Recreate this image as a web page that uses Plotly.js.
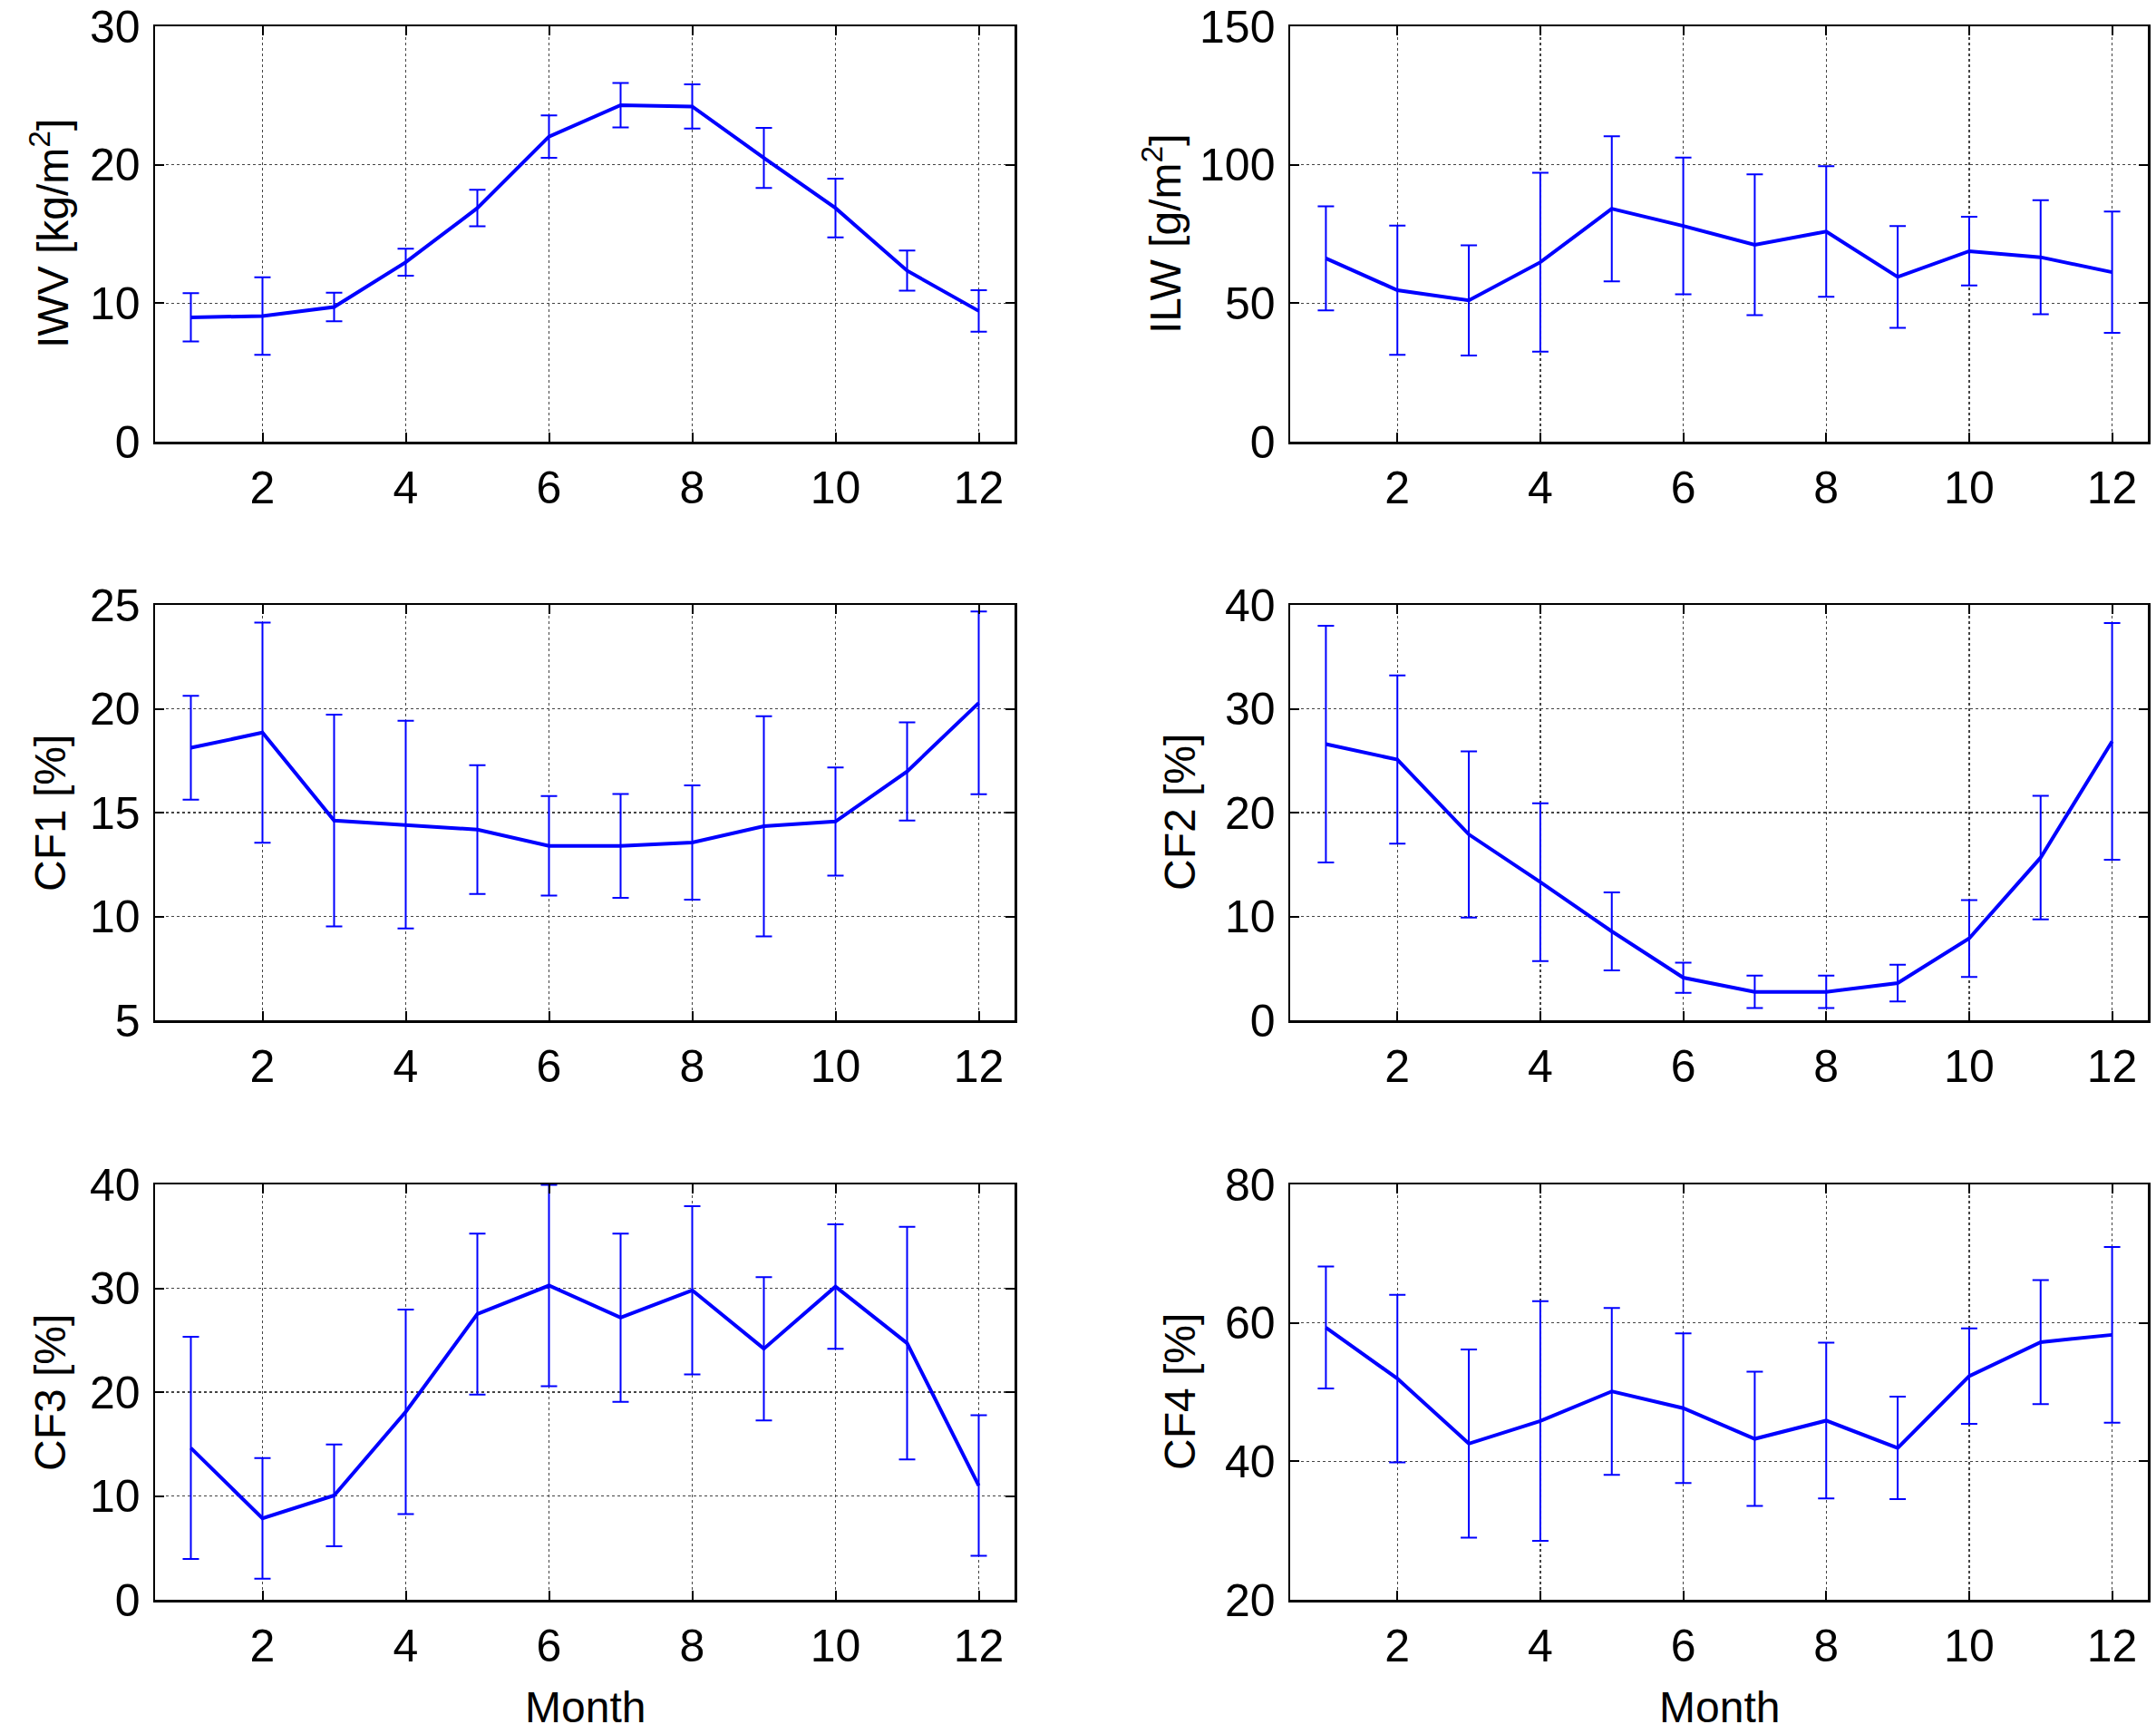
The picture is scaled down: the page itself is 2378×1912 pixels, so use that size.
<!DOCTYPE html>
<html>
<head>
<meta charset="utf-8">
<script src="https://cdn.plot.ly/plotly-3.0.1.min.js"></script>
<style>
  html, body { margin: 0; padding: 0; background: #fff; }
  #chart { width: 2378px; height: 1912px; }
</style>
</head>
<body>
<div id="chart"></div>
<script>
"use strict";

// monthly means and standard deviations
var months = [1, 2, 3, 4, 5, 6, 7, 8, 9, 10, 11, 12];

var iwvMean = [8.98, 9.07, 9.73, 12.96, 16.87, 22.03, 24.3, 24.21, 20.5, 16.87, 12.35, 9.44];
var iwvStd = [1.74, 2.8, 1.03, 0.97, 1.32, 1.53, 1.6, 1.6, 2.17, 2.12, 1.45, 1.5];

var ilwMean = [66.2, 54.7, 51.0, 64.8, 84.1, 77.9, 71.1, 75.9, 59.5, 68.8, 66.6, 61.2];
var ilwStd = [18.8, 23.3, 19.9, 32.3, 26.2, 24.7, 25.4, 23.6, 18.4, 12.4, 20.6, 21.9];

var cf1Mean = [18.12, 18.85, 14.62, 14.42, 14.18, 13.4, 13.4, 13.56, 14.34, 14.57, 16.98, 20.28];
var cf1Std = [2.5, 5.3, 5.1, 5.0, 3.1, 2.4, 2.5, 2.75, 5.3, 2.6, 2.36, 4.4];

var cf2Mean = [26.6, 25.1, 17.9, 13.3, 8.56, 4.1, 2.74, 2.74, 3.58, 7.88, 15.66, 26.86];
var cf2Std = [11.4, 8.1, 8.0, 7.6, 3.75, 1.45, 1.57, 1.57, 1.77, 3.7, 5.95, 11.4];

var cf3Mean = [14.62, 7.84, 10.05, 18.1, 27.52, 30.26, 27.17, 29.8, 24.18, 30.16, 24.71, 11.0];
var cf3Std = [10.7, 5.8, 4.9, 9.85, 7.75, 9.7, 8.1, 8.1, 6.9, 6.0, 11.2, 6.77];

var cf4Mean = [59.33, 51.95, 42.56, 45.83, 50.1, 47.68, 43.25, 45.88, 41.93, 52.31, 57.22, 58.27];
var cf4Std = [8.8, 12.1, 13.6, 17.3, 12.05, 10.8, 9.7, 11.25, 7.4, 6.9, 8.96, 12.7];

var panelTitles = ["IWV [kg/m<sup>2</sup>]", "ILW [g/m<sup>2</sup>]", "CF1 [%]", "CF2 [%]", "CF3 [%]", "CF4 [%]"];
var panelMeans = [iwvMean, ilwMean, cf1Mean, cf2Mean, cf3Mean, cf4Mean];
var panelStds = [iwvStd, ilwStd, cf1Std, cf2Std, cf3Std, cf4Std];
var panelRanges = [[0, 30], [0, 150], [5, 25], [0, 40], [0, 40], [20, 80]];
var panelDticks = [10, 50, 5, 10, 10, 20];

var W = 2378, H = 1912;
var blue = "#0000ff";
var fontFamily = "Liberation Sans, Arial, Helvetica, sans-serif";

// plot boxes in pixels: [left, right] per column, [top, bottom] per row
var colPx = [[171, 1119], [1423, 2369]];
var rowPx = [[29, 487], [667, 1125], [1306, 1764]];
var titleXPx = [[55, 1282], [55, 1301], [55, 1301]];

var data = [];
var layout = {
    width: W,
    height: H,
    margin: { l: 0, r: 0, t: 0, b: 0 },
    paper_bgcolor: "#fff",
    plot_bgcolor: "#fff",
    showlegend: false,
    font: { family: fontFamily, size: 50, color: "#000" },
    annotations: []
};

function axisCommon() {
    return {
        showline: true,
        linecolor: "#000",
        linewidth: 2.5,
        mirror: "ticks",
        ticks: "inside",
        ticklen: 10,
        tickwidth: 2,
        tickcolor: "#000",
        showgrid: true,
        gridcolor: "#444",
        gridwidth: 1.2,
        griddash: "dot",
        zeroline: false,
        tickfont: { family: fontFamily, size: 50, color: "#000" },
        fixedrange: true
    };
}

for (var i = 0; i < 6; i++) {
    var row = Math.floor(i / 2);
    var col = i % 2;
    var n = i + 1;
    var xName = n == 1 ? "x" : "x" + n;
    var yName = n == 1 ? "y" : "y" + n;

    data.push({
        x: months,
        y: panelMeans[i],
        xaxis: xName,
        yaxis: yName,
        type: "scatter",
        mode: "lines",
        line: { color: blue, width: 4 },
        error_y: {
            type: "data",
            array: panelStds[i],
            visible: true,
            color: blue,
            thickness: 2,
            width: 9
        },
        hoverinfo: "skip"
    });

    var xa = axisCommon();
    xa.domain = [colPx[col][0] / W, colPx[col][1] / W];
    xa.anchor = yName;
    xa.range = [0.5, 12.5];
    xa.tick0 = 0;
    xa.dtick = 2;
    xa.ticklabelstandoff = 5;

    var ya = axisCommon();
    ya.domain = [1 - rowPx[row][1] / H, 1 - rowPx[row][0] / H];
    ya.anchor = xName;
    ya.range = panelRanges[i];
    ya.tick0 = 0;
    ya.dtick = panelDticks[i];
    ya.ticklabelstandoff = 4;

    layout[n == 1 ? "xaxis" : "xaxis" + n] = xa;
    layout[n == 1 ? "yaxis" : "yaxis" + n] = ya;

    //y axis title, rotated
    layout.annotations.push({
        text: panelTitles[i],
        xref: "paper",
        yref: "paper",
        x: titleXPx[row][col] / W,
        y: 1 - (rowPx[row][0] + rowPx[row][1]) / 2 / H,
        xanchor: "center",
        yanchor: "middle",
        textangle: -90,
        showarrow: false,
        font: { family: fontFamily, size: 48, color: "#000" }
    });
}

// x axis title under the bottom row
for (var c = 0; c < 2; c++) {
    layout.annotations.push({
        text: "Month",
        xref: "paper",
        yref: "paper",
        x: (colPx[c][0] + colPx[c][1]) / 2 / W,
        y: 1 - 1882 / H,
        xanchor: "center",
        yanchor: "middle",
        showarrow: false,
        font: { family: fontFamily, size: 48, color: "#000" }
    });
}

Plotly.newPlot("chart", data, layout, { staticPlot: true, displayModeBar: false });
</script>
</body>
</html>
